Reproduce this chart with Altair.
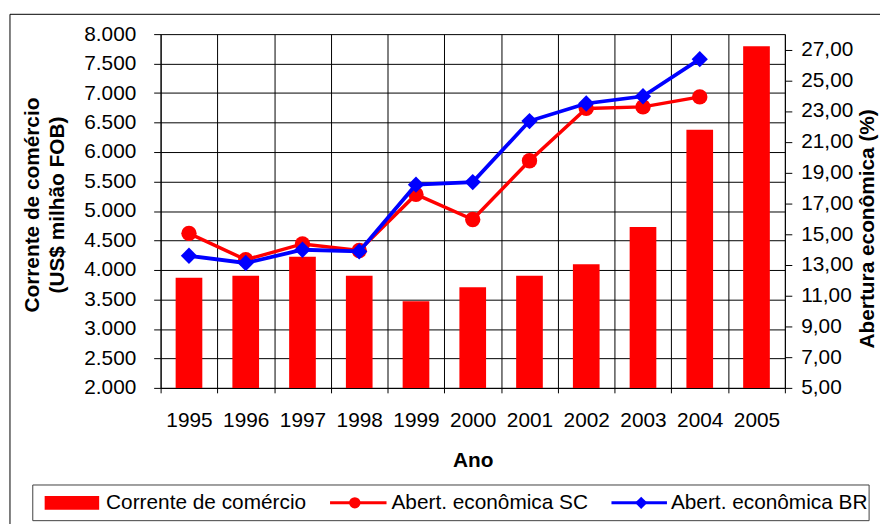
import altair as alt
import pandas as pd

# ---- data ----
years = ["1995", "1996", "1997", "1998", "1999", "2000", "2001", "2002", "2003", "2004", "2005"]
corrente = [3870, 3900, 4225, 3900, 3470, 3705, 3900, 4097, 4728, 6379, 7794]
abert_sc = [15.05, 13.33, 14.36, 13.93, 17.58, 15.95, 19.77, 23.17, 23.27, 23.92, None]
abert_br = [13.59, 13.12, 13.98, 13.87, 18.21, 18.38, 22.35, 23.49, 23.96, 26.37, None]
left_ticks = list(range(2000, 8001, 500))
right_ticks = [5, 7, 9, 11, 13, 15, 17, 19, 21, 23, 25, 27]
legend_labels = ["Corrente de comércio", "Abert. econômica SC", "Abert. econômica BR"]
left_title = ["Corrente de comércio", "(US$ milhão FOB)"]
right_title = "Abertura econômica (%)"
x_title = "Ano"

df = pd.DataFrame({"Ano": years, "cc": corrente, "sc": abert_sc, "br": abert_br})

FONT = "Liberation Sans"
RED = "#FF0000"
BLUE = "#0000FF"
FS = 21

x_enc = alt.X(
    "Ano:O",
    scale=alt.Scale(paddingInner=0, paddingOuter=0),
    axis=alt.Axis(
        title=x_title, grid=True, tickBand="extent", gridColor="#000000", gridOpacity=1,
        gridWidth=1, domainColor="#000000", tickColor="#000000", tickSize=5, labelAngle=0,
        labelFont=FONT, labelFontSize=FS, labelColor="#000000", labelPadding=17,
        titleFont=FONT, titleFontSize=21, titleFontWeight="bold", titleColor="#000000",
        titleY=79, titleBaseline="alphabetic",
    ),
)

bars = alt.Chart(df).mark_bar(color=RED, width=alt.RelativeBandSize(0.47)).encode(
    x=x_enc,
    y=alt.Y(
        "cc:Q",
        scale=alt.Scale(domain=[2000, 8000], nice=False, zero=False, clamp=True),
        axis=alt.Axis(
            title=left_title, values=left_ticks,
            labelExpr="replace(format(datum.value, ',d'), ',', '.')",
            grid=True, gridColor="#000000", gridOpacity=1, gridWidth=1,
            domainColor="#000000", tickColor="#000000", tickSize=7,
            labelFont=FONT, labelFontSize=FS, labelColor="#000000", labelPadding=18,
            titleFont=FONT, titleFontSize=21, titleFontWeight="bold", titleColor="#000000",
            titleAngle=270, titleX=-129, titleY=172, titleBaseline="middle", titleLineHeight=25,
        ),
    ),
)

right_axis = alt.Axis(
    orient="right", title=right_title, values=right_ticks,
    labelExpr="replace(format(datum.value, '.2f'), '.', ',')",
    grid=False, domainColor="#000000", tickColor="#000000", tickSize=7,
    labelFont=FONT, labelFontSize=FS, labelColor="#000000", labelPadding=9,
    titleFont=FONT, titleFontSize=21, titleFontWeight="bold", titleColor="#000000",
    titleAngle=270, titleX=89, titleY=196, titleBaseline="alphabetic",
)
right_scale = alt.Scale(domain=[5, 28], nice=False, zero=False)

sc_line = alt.Chart(df).mark_line(
    color=RED, strokeWidth=3.5,
    point=alt.OverlayMarkDef(shape="circle", filled=True, size=240, color=RED, opacity=1),
).encode(x=x_enc, y=alt.Y("sc:Q", scale=right_scale, axis=right_axis))

br_line = alt.Chart(df).mark_line(
    color=BLUE, strokeWidth=3.8,
    point=alt.OverlayMarkDef(shape="diamond", filled=True, size=270, color=BLUE, opacity=1),
).encode(x=x_enc, y=alt.Y("br:Q", scale=right_scale, axis=right_axis))

lines = alt.layer(sc_line, br_line)

one = alt.InlineData(values=[{"k": 1}])

border = alt.Chart(one).mark_rect(filled=False, stroke="#000000", strokeWidth=1).encode(
    x=alt.value(-152), x2=alt.value(760), y=alt.value(-20), y2=alt.value(560)
)
legend_box = alt.Chart(one).mark_rect(fill="#FFFFFF", stroke="#404040", strokeWidth=1).encode(
    x=alt.value(-129), x2=alt.value(715), y=alt.value(455), y2=alt.value(491)
)
LY = 473
sw = alt.Chart(one).mark_rect(color=RED).encode(
    x=alt.value(-117), x2=alt.value(-62), y=alt.value(LY - 7), y2=alt.value(LY + 7)
)
t1 = alt.Chart(one).mark_text(align="left", baseline="middle", font=FONT, fontSize=FS, color="#000000").encode(
    x=alt.value(-55), y=alt.value(LY), text=alt.value(legend_labels[0])
)
r2 = alt.Chart(one).mark_rule(color=RED, strokeWidth=3).encode(
    x=alt.value(171), x2=alt.value(228), y=alt.value(LY)
)
p2 = alt.Chart(one).mark_point(shape="circle", filled=True, size=130, color=RED, opacity=1).encode(
    x=alt.value(196), y=alt.value(LY)
)
t2 = alt.Chart(one).mark_text(align="left", baseline="middle", font=FONT, fontSize=FS, color="#000000").encode(
    x=alt.value(233), y=alt.value(LY), text=alt.value(legend_labels[1])
)
r3 = alt.Chart(one).mark_rule(color=BLUE, strokeWidth=3).encode(
    x=alt.value(455), x2=alt.value(511), y=alt.value(LY)
)
p3 = alt.Chart(one).mark_point(shape="diamond", filled=True, size=150, color=BLUE, opacity=1).encode(
    x=alt.value(485), y=alt.value(LY)
)
t3 = alt.Chart(one).mark_text(align="left", baseline="middle", font=FONT, fontSize=FS, color="#000000").encode(
    x=alt.value(515), y=alt.value(LY), text=alt.value(legend_labels[2])
)

chart = alt.layer(
    border, bars, lines, legend_box, sw, t1, r2, p2, t2, r3, p3, t3
).resolve_scale(y="independent").properties(
    width=630, height=357,
    autosize=alt.AutoSizeParams(type="none"),
    padding={"left": 154, "top": 24, "right": 96, "bottom": 135},
    background="#FFFFFF",
).configure_view(stroke=None)

chart.save("out.html", embed_options={"renderer": "svg", "actions": False})
